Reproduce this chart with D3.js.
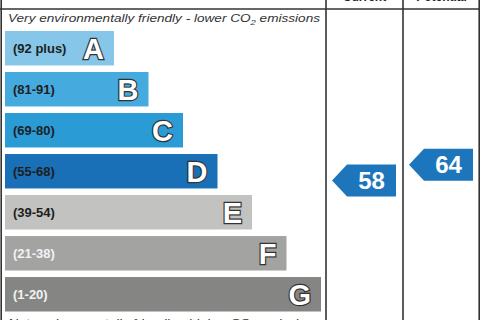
<!DOCTYPE html>
<html>
<head>
<meta charset="utf-8">
<script src="https://cdn.jsdelivr.net/npm/d3@7"></script>
<style>
  body { margin: 0; background: #fff; }
  svg { display: block; font-family: "Liberation Sans", Arial, sans-serif; }
</style>
</head>
<body>
<div id="container"></div>
<script>
/* DATA */
const bands = ["A", "B", "C", "D", "E", "F", "G"];
const rangeLabels = ["(92 plus)", "(81-91)", "(69-80)", "(55-68)", "(39-54)", "(21-38)", "(1-20)"];
const bandMin = [92, 81, 69, 55, 39, 21, 1];
const bandMax = [100, 91, 80, 68, 54, 38, 20];
const columns = ["Current", "Potential"];
const ratings = [58, 64];
const topText = "Very environmentally friendly - lower CO";
const bottomText = "Not environmentally friendly - higher CO";

/* CONSTANTS */
const width = 480, height = 320;
const chartRight = 326;

const colors = ["#86c6e9", "#45abdf", "#2a9bd5", "#1a70b6", "#c2c2c1", "#a3a3a2", "#858584"];
const colorScale = d3.scaleOrdinal().domain(bands).range(colors);
const labelColor = d3.scaleOrdinal().domain(bands)
  .range(["#1e1e1e", "#1e1e1e", "#1e1e1e", "#1e1e1e", "#1e1e1e", "#f2f2f2", "#f2f2f2"]);

const svg = d3.select("#container").append("svg")
  .attr("width", width).attr("height", height);

// scales
const yScale = d3.scaleBand()
  .domain(bands)
  .range([31, 311.5])
  .paddingInner(0.16)
  .paddingOuter(0);

const wScale = d3.scaleLinear()
  .domain([0, bands.length - 1])
  .range([109, 316]);

const colScale = d3.scaleBand()
  .domain(columns)
  .range([chartRight, 480]);

// score -> y position inside its band
function scoreY(v) {
  const i = bandMin.findIndex((m, k) => v >= m && v <= bandMax[k]);
  const b = bands[i];
  const y0 = yScale(b) + yScale.bandwidth();
  return y0 - (v - bandMin[i]) / (bandMax[i] - bandMin[i]) * yScale.bandwidth();
}

// grid lines
const lineColor = "#333";
svg.append("line").attr("x1", 0).attr("x2", width).attr("y1", 9).attr("y2", 9)
  .attr("stroke", lineColor).attr("stroke-width", 1.6);
[1.2, chartRight, colScale("Potential"), 479.2].forEach(x => {
  svg.append("line").attr("x1", x).attr("x2", x).attr("y1", 0).attr("y2", height)
    .attr("stroke", lineColor).attr("stroke-width", 1.6);
});

// column headers (cut off at top)
svg.selectAll("text.head")
  .data(columns)
  .join("text")
  .attr("class", "head")
  .attr("x", d => colScale(d) + colScale.bandwidth() / 2)
  .attr("y", 0.5)
  .attr("text-anchor", "middle")
  .attr("font-size", 12)
  .attr("font-weight", "bold")
  .attr("fill", "#222")
  .text(d => d);

// top / bottom captions
function caption(y, txt) {
  const t = svg.append("text")
    .attr("x", 8).attr("y", y)
    .attr("font-size", 11.5)
    .attr("font-style", "italic")
    .attr("fill", "#333")
    .attr("textLength", 312)
    .attr("lengthAdjust", "spacingAndGlyphs");
  t.append("tspan").text(txt);
  t.append("tspan").attr("font-size", 8).attr("dy", 3).text("2");
  t.append("tspan").attr("dy", -3).text(" emissions");
}
caption(22, topText);
caption(327, bottomText);

// bars
const rows = bands.map((b, i) => ({ band: b, label: rangeLabels[i], i }));

svg.selectAll("rect.bar")
  .data(rows)
  .join("rect")
  .attr("class", "bar")
  .attr("x", 5)
  .attr("y", d => yScale(d.band))
  .attr("width", d => wScale(d.i))
  .attr("height", yScale.bandwidth())
  .attr("fill", d => colorScale(d.band));

svg.selectAll("text.range")
  .data(rows)
  .join("text")
  .attr("class", "range")
  .attr("x", 13)
  .attr("y", d => yScale(d.band) + yScale.bandwidth() / 2 + 4.5)
  .attr("font-size", 13)
  .attr("font-weight", "bold")
  .attr("fill", d => labelColor(d.band))
  .text(d => d.label);

svg.selectAll("text.letter")
  .data(rows)
  .join("text")
  .attr("class", "letter")
  .attr("x", d => 5 + wScale(d.i) - 10)
  .attr("y", d => yScale(d.band) + yScale.bandwidth() / 2 + 10.5)
  .attr("text-anchor", "end")
  .attr("font-size", 29)
  .attr("font-weight", "bold")
  .attr("fill", "#fff")
  .attr("stroke", "#333")
  .attr("stroke-width", 2.4)
  .attr("paint-order", "stroke")
  .text(d => d.band);

// rating arrows
const arrowH = 32, tip = 15;
const arrows = columns.map((c, i) => ({ col: c, value: ratings[i] }));

const ag = svg.selectAll("g.arrow")
  .data(arrows)
  .join("g")
  .attr("class", "arrow")
  .attr("transform", d => `translate(${colScale(d.col)},${scoreY(d.value)})`);

ag.append("path")
  .attr("d", d => {
    const x0 = 6, x1 = colScale.bandwidth() - 7;
    return `M${x0},0 L${x0 + tip},${-arrowH / 2} L${x1},${-arrowH / 2} L${x1},${arrowH / 2} L${x0 + tip},${arrowH / 2} Z`;
  })
  .attr("fill", "#1d76bc");

ag.append("text")
  .attr("x", (6 + tip + colScale.bandwidth() - 7) / 2)
  .attr("y", 8.5)
  .attr("text-anchor", "middle")
  .attr("font-size", 24)
  .attr("font-weight", "bold")
  .attr("fill", "#fff")
  .text(d => d.value);
</script>
</body>
</html>
